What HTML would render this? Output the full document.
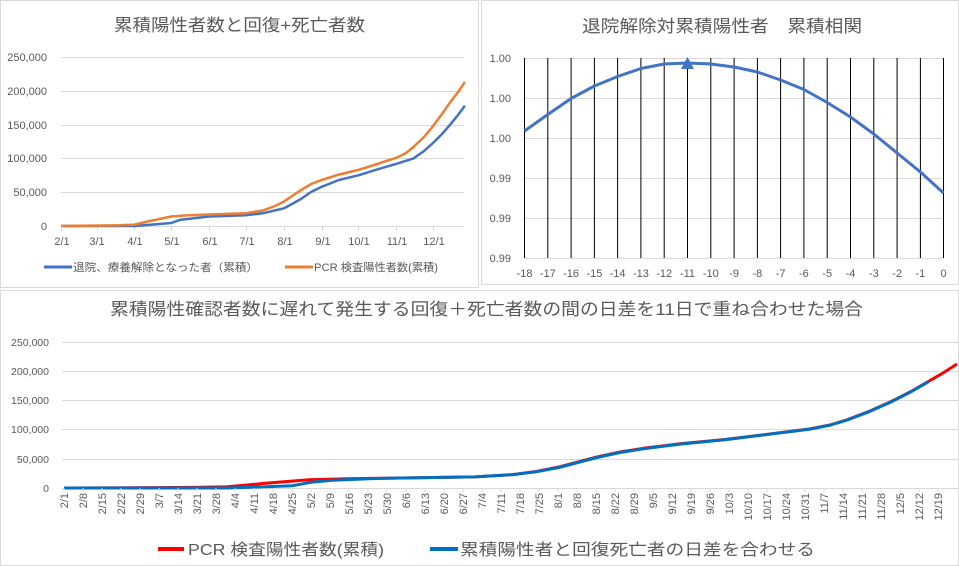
<!DOCTYPE html>
<html><head><meta charset="utf-8"><style>
body{margin:0;background:#fff}
svg{display:block}
text{font-family:"Liberation Sans","Noto Sans CJK JP",sans-serif;fill:#595959}
</style></head><body>
<svg width="959" height="566" viewBox="0 0 959 566">
<rect width="959" height="566" fill="#fff"/>
<rect x="0.5" y="0.5" width="478" height="287" fill="#fff" stroke="#d9d9d9"/>
<rect x="481.5" y="0.5" width="477" height="284" fill="#fff" stroke="#d9d9d9"/>
<rect x="0.5" y="290.5" width="958" height="275" fill="#fff" stroke="#d9d9d9"/>

<!-- TOP LEFT -->
<text x="114" y="31" font-size="17" textLength="251" lengthAdjust="spacingAndGlyphs">累積陽性者数と回復+死亡者数</text>
<g stroke="#d9d9d9" stroke-width="1">
<line x1="61" x2="464" y1="57.5" y2="57.5"/><line x1="61" x2="464" y1="91.5" y2="91.5"/>
<line x1="61" x2="464" y1="125.5" y2="125.5"/><line x1="61" x2="464" y1="158.5" y2="158.5"/>
<line x1="61" x2="464" y1="192.5" y2="192.5"/><line x1="61" x2="464" y1="226.5" y2="226.5"/>
<line x1="61.5" x2="61.5" y1="226" y2="231"/><line x1="97.5" x2="97.5" y1="226" y2="231"/><line x1="134.5" x2="134.5" y1="226" y2="231"/><line x1="171.5" x2="171.5" y1="226" y2="231"/><line x1="209.5" x2="209.5" y1="226" y2="231"/><line x1="246.5" x2="246.5" y1="226" y2="231"/><line x1="284.5" x2="284.5" y1="226" y2="231"/><line x1="322.5" x2="322.5" y1="226" y2="231"/><line x1="358.5" x2="358.5" y1="226" y2="231"/><line x1="396.5" x2="396.5" y1="226" y2="231"/><line x1="433.5" x2="433.5" y1="226" y2="231"/>
</g>
<g font-size="11" text-anchor="end">
<text x="47" y="61">250,000</text><text x="47" y="95">200,000</text><text x="47" y="129">150,000</text><text x="47" y="162">100,000</text><text x="47" y="196">50,000</text><text x="47" y="230">0</text>
</g>
<g font-size="11" text-anchor="middle">
<text x="62" y="245">2/1</text><text x="97" y="245">3/1</text><text x="135" y="245">4/1</text><text x="172" y="245">5/1</text><text x="210" y="245">6/1</text><text x="247" y="245">7/1</text><text x="285" y="245">8/1</text><text x="323" y="245">9/1</text><text x="359" y="245">10/1</text><text x="397" y="245">11/1</text><text x="434" y="245">12/1</text>
</g>
<polyline fill="none" stroke="#4472c4" stroke-width="2.5" stroke-linejoin="round" points="61,226 134.4,226 151.6,224.6 171.2,223 179.7,219.9 209.1,216.5 245.8,215.2 263,213.2 283.8,208.4 292,204 300.9,199 311,192 321.7,186.8 338.8,180 358.4,175.3 375.6,169.9 396.4,163.8 413.5,158.4 424,151 433.1,142.9 442,134 450.2,124.6 458,115 464.9,105.7"/>
<polyline fill="none" stroke="#ed7d31" stroke-width="2.5" stroke-linejoin="round" points="61,226 119.8,225.3 134.4,224.6 151.6,220.6 171.2,216.5 188.3,215.2 209.1,214.5 245.8,213.2 263,210.5 275,206 283.8,201.7 292,196 300.9,190.2 311,184 321.7,180 338.8,174.6 358.4,169.9 375.6,164.5 396.4,157.7 406,153 413.5,146.9 424,137 433.1,126 442,114 450.2,102.3 458,92 464.9,82"/>
<line x1="44" x2="72" y1="267" y2="267" stroke="#4472c4" stroke-width="3"/>
<text x="73" y="271" font-size="11" textLength="185" lengthAdjust="spacingAndGlyphs">退院、療養解除となった者（累積）</text>
<line x1="285" x2="313" y1="267" y2="267" stroke="#ed7d31" stroke-width="3"/>
<text x="314" y="271" font-size="11" textLength="124" lengthAdjust="spacingAndGlyphs">PCR 検査陽性者数(累積)</text>

<!-- TOP RIGHT -->
<text x="582" y="32" font-size="17" textLength="280" lengthAdjust="spacingAndGlyphs">退院解除対累積陽性者　累積相関</text>
<g stroke="#d9d9d9"><line x1="524" x2="944" y1="58.5" y2="58.5"/><line x1="524" x2="944" y1="98.5" y2="98.5"/><line x1="524" x2="944" y1="138.5" y2="138.5"/><line x1="524" x2="944" y1="178.5" y2="178.5"/><line x1="524" x2="944" y1="218.5" y2="218.5"/><line x1="524" x2="944" y1="258.5" y2="258.5"/></g>
<g stroke="#000" stroke-width="1">
<line x1="524.5" x2="524.5" y1="58" y2="258"/><line x1="547.8" x2="547.8" y1="58" y2="258"/><line x1="571.1" x2="571.1" y1="58" y2="258"/><line x1="594.4" x2="594.4" y1="58" y2="258"/><line x1="617.6" x2="617.6" y1="58" y2="258"/><line x1="640.9" x2="640.9" y1="58" y2="258"/><line x1="664.2" x2="664.2" y1="58" y2="258"/><line x1="687.5" x2="687.5" y1="58" y2="258"/><line x1="710.8" x2="710.8" y1="58" y2="258"/><line x1="734.1" x2="734.1" y1="58" y2="258"/><line x1="757.4" x2="757.4" y1="58" y2="258"/><line x1="780.6" x2="780.6" y1="58" y2="258"/><line x1="803.9" x2="803.9" y1="58" y2="258"/><line x1="827.2" x2="827.2" y1="58" y2="258"/><line x1="850.5" x2="850.5" y1="58" y2="258"/><line x1="873.8" x2="873.8" y1="58" y2="258"/><line x1="897.1" x2="897.1" y1="58" y2="258"/><line x1="920.4" x2="920.4" y1="58" y2="258"/><line x1="943.5" x2="943.5" y1="58" y2="258"/>
</g>
<g font-size="11" text-anchor="end">
<text x="511" y="62">1.00</text><text x="511" y="102">1.00</text><text x="511" y="142">1.00</text><text x="511" y="182">0.99</text><text x="511" y="222">0.99</text><text x="511" y="262">0.99</text>
</g>
<g font-size="11" text-anchor="middle">
<text x="524.5" y="277">-18</text><text x="547.8" y="277">-17</text><text x="571.1" y="277">-16</text><text x="594.4" y="277">-15</text><text x="617.6" y="277">-14</text><text x="640.9" y="277">-13</text><text x="664.2" y="277">-12</text><text x="687.5" y="277">-11</text><text x="710.8" y="277">-10</text><text x="734.1" y="277">-9</text><text x="757.4" y="277">-8</text><text x="780.6" y="277">-7</text><text x="803.9" y="277">-6</text><text x="827.2" y="277">-5</text><text x="850.5" y="277">-4</text><text x="873.8" y="277">-3</text><text x="897.1" y="277">-2</text><text x="920.4" y="277">-1</text><text x="943.5" y="277">0</text>
</g>
<polyline fill="none" stroke="#4472c4" stroke-width="3" stroke-linejoin="round" points="524.5,131 547.8,114.5 571.1,98.5 594.4,86 617.6,76.5 640.9,68.5 664.2,64 687.5,63 710.8,64 734.1,67 757.4,72 780.6,80 803.9,89.5 827.2,102.5 850.5,117 873.8,134 897.1,153 920.4,172 943.5,193"/>
<polygon points="687.5,57 681,69 694,69" fill="#4472c4"/>

<!-- BOTTOM -->
<text x="110" y="315" font-size="17" textLength="753" lengthAdjust="spacingAndGlyphs">累積陽性確認者数に遅れて発生する回復＋死亡者数の間の日差を11日で重ね合わせた場合</text>
<g stroke="#d9d9d9"><line x1="62" x2="958" y1="342.5" y2="342.5"/><line x1="62" x2="958" y1="371.5" y2="371.5"/><line x1="62" x2="958" y1="400.5" y2="400.5"/><line x1="62" x2="958" y1="429.5" y2="429.5"/><line x1="62" x2="958" y1="459.5" y2="459.5"/><line x1="62" x2="958" y1="488.5" y2="488.5"/></g>
<g font-size="10.5" text-anchor="end">
<text x="49" y="346">250,000</text><text x="49" y="375">200,000</text><text x="49" y="404">150,000</text><text x="49" y="433">100,000</text><text x="49" y="463">50,000</text><text x="49" y="492">0</text>
</g>
<g font-size="11" text-anchor="end" id="bl"></g>
<polyline fill="none" stroke="#ff0000" stroke-width="3" stroke-linejoin="round" points="64,488 194.6,487.4 227.2,486.8 265.3,483.3 308.8,479.8 346.9,478.7 393,478.1 474.7,476.9 512.8,474.6 536,471.5 559,467 578,462 597,457 620,452 643.4,448.3 681.4,443.6 725,439.5 763,434.9 809.3,429 830,425 847.4,419.7 870,411 891,401.6 910,392 929,381.1 943,373 957,364"/>
<polyline fill="none" stroke="#0070c0" stroke-width="3" stroke-linejoin="round" points="64,488 227.2,488 265.3,486.8 292.5,485.7 311.5,482.2 330.6,480.4 368.6,478.7 393,478.1 474.7,476.9 512.8,474.6 536,471.8 559,467.5 578,462.5 597,457.5 620,452.5 643.4,448.8 681.4,444 725,439.8 763,435 809.3,429.3 830,425.2 847.4,420 870,411.3 891,402 910,392.3 929,381.5"/>
<line x1="158" x2="184" y1="549" y2="549" stroke="#ff0000" stroke-width="4"/>
<text x="188" y="555" font-size="16" textLength="196" lengthAdjust="spacingAndGlyphs">PCR 検査陽性者数(累積)</text>
<line x1="430" x2="458" y1="549" y2="549" stroke="#0070c0" stroke-width="4"/>
<text x="460" y="555" font-size="16" textLength="355" lengthAdjust="spacingAndGlyphs">累積陽性者と回復死亡者の日差を合わせる</text>
</svg>
<script>
var d=["2/1","2/8","2/15","2/22","2/29","3/7","3/14","3/21","3/28","4/4","4/11","4/18","4/25","5/2","5/9","5/16","5/23","5/30","6/6","6/13","6/20","6/27","7/4","7/11","7/18","7/25","8/1","8/8","8/15","8/22","8/29","9/5","9/12","9/19","9/26","10/3","10/10","10/17","10/24","10/31","11/7","11/14","11/21","11/28","12/5","12/12","12/19"];
var g=document.getElementById("bl"),ns="http://www.w3.org/2000/svg";
d.forEach(function(s,i){var x=64+i*19.0+4;var t=document.createElementNS(ns,"text");t.setAttribute("transform","translate("+x+",493) rotate(-90)");t.textContent=s;g.appendChild(t);
var l=document.createElementNS(ns,"line");l.setAttribute("x1",x-4);l.setAttribute("x2",x-4);l.setAttribute("y1",488);l.setAttribute("y2",492);l.setAttribute("stroke","#d9d9d9");g.parentNode.appendChild(l);});
</script>
</body></html>
